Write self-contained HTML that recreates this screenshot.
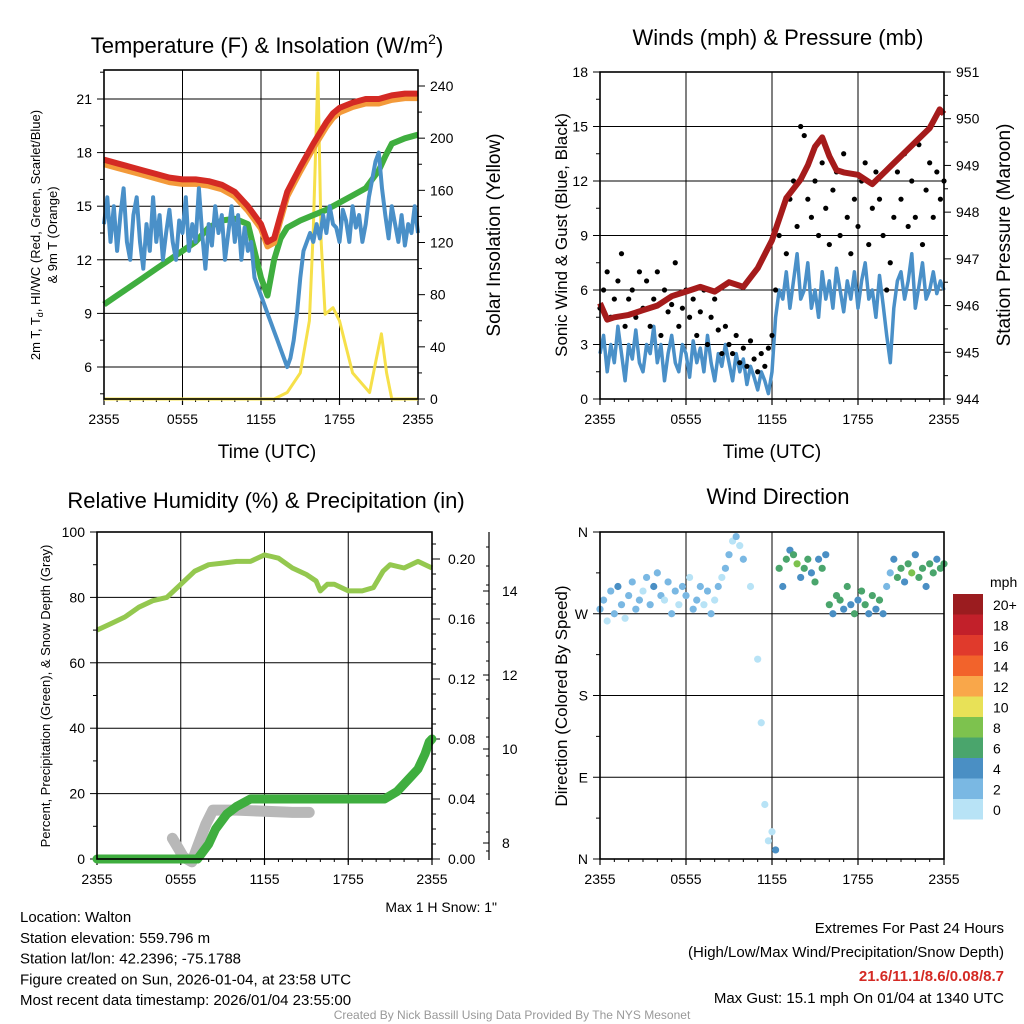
<!DOCTYPE html>
<html><head><meta charset="utf-8"><style>
body{margin:0;background:#fff}
svg{display:block;font-family:"Liberation Sans",Arial,sans-serif}
</style></head><body>
<svg id="s" width="1024" height="1024" viewBox="0 0 1024 1024"></svg>
<script>
// ---------- data ----------
const xTickLabels=["2355","0555","1155","1755","2355"];
// Panel 1 (hours since 2355)
const tempHrs=[0,1,2,3,4,5,6,7,8,9,10,11,11.5,12,12.5,13,13.5,14,14.5,15,16,17,17.5,18,19,20,21,22,23,24];
const tempVals=[17.6,17.4,17.2,17.0,16.8,16.6,16.5,16.5,16.4,16.2,15.8,15.0,14.5,14.0,13.0,13.2,14.5,15.8,16.5,17.2,18.5,19.7,20.2,20.5,20.8,21.0,21.0,21.2,21.3,21.3];
const dewHrs=[0,1,2,3,4,5,6,7,8,9,10,11,11.5,12,12.5,13,13.5,14,15,16,17,18,19,20,20.5,21,21.5,22,23,24];
const dewVals=[9.5,10.0,10.5,11.0,11.5,12.0,12.5,13.0,13.8,14.2,14.3,14.0,12.5,11.0,10.0,12.0,13.2,13.8,14.2,14.5,14.8,15.2,15.6,16.0,16.5,17.0,17.8,18.5,18.8,19.0];
const wcVals=[14,15.5,13,15,12.5,14.5,16,13,12,14.5,15.5,13,
11.5,14,12.5,15.5,13,14.5,12,13.5,14.8,13,12,14.2,
13.5,15.5,12.5,14,13,16,13.5,11.5,14,12.8,15,13.5,
14.5,12,13.5,15,13,14.5,12,13.8,12.5,13,11,10.5,
10,9.5,9,8.5,8,7.5,7,6.5,6,6.5,7.5,9,
11,12.5,13,13.5,13,14,13.2,14.5,13.5,15,14,13.8,
13,14.8,14.2,13,15,13.8,14.5,13,14,15.5,16.5,17.5,
18,16,14.5,13.2,15,14,13,14.5,12.8,14,13.5,15,13.5];
const solarHrs=[0,13,14,15,15.7,16.0,16.35,16.6,16.9,17.5,18,18.5,19,20.3,20.8,21.2,21.6,22,24];
const solarVals=[0,0,5,20,60,130,250,120,65,70,60,40,20,5,30,50,20,0,0];
// Panel 2
const presHrs=[0,0.5,1,2,3,4,5,6,7,8,9,10,11,12,13,14,14.5,15,15.5,16,16.5,17,18,19,20,21,22,23,23.7,24];
const presVals=[946.05,945.7,945.75,945.8,945.9,946.0,946.2,946.3,946.4,946.3,946.5,946.4,946.8,947.4,948.3,948.7,949.0,949.4,949.6,949.2,948.9,948.85,948.8,948.6,948.9,949.2,949.5,949.8,950.2,950.1];
const sonicVals=[2.5,3.5,1.5,3,2,4,2.5,1,3,2.2,3.8,2,
1.5,3,2.5,4,2,3,1,2.5,3.5,2,1.5,3,
2.5,1.2,3.2,2,2.8,1.5,3.5,2,1,2.5,1.8,3,
2,1,2.5,1.5,2.2,0.8,1.8,1.2,0.5,1.5,1,0.3,
1.5,4.5,6,5.5,7,5,6.5,8,5.5,6,7.5,5,
6,4.5,7,5.5,6.5,5,7.2,6,4.8,6.5,5.5,7,
5,6.5,7.5,5.5,6,4.5,6.8,5.2,3.5,2,5,6.5,
7,5.5,6.5,8,5,6.2,7.5,5.5,6,7,5.8,6.5,6];
const gustVals=[5,6,7,4.5,5.5,6.5,8,4,5.5,6,4.5,7,
5,6.5,4,5.5,7,3.5,6,4.8,5.2,7.5,4,5,
6,4.5,5.5,3.5,4.8,6,3,4.5,5.5,3.8,2.5,4,
3,2.5,3.5,2,2.8,1.8,3.2,2.2,1.5,2.5,1.8,2.8,
3.5,6,9,10.5,8,11,12,9.5,15,14.5,11,10,
12,9,13,10.5,8.5,11.5,12.5,9,13.5,10,8,11,
9.5,12,13,8.5,10.5,12.5,11,9,6,7.5,10,12.5,
11,13.5,9.5,12,10,14,8.5,11.5,13,10,12.5,11,12];
// Panel 3
const rhHrs=[0,1,2,3,4,5,6,7,8,9,10,11,12,12.5,13,14,15,15.7,16,16.5,17,18,19,19.8,20.5,21,22,23,24];
const rhVals=[70,72,74,77,79,80,84,88,90,90.5,91,91,93,92.5,92,89,87,85,82,84,84,82,82,83,88,90,89,91,89];
const precHrs=[0,7.2,8,8.5,9.3,10,11,20.6,21.5,22,22.5,23,23.5,23.8,24];
const precVals=[0,0,0.01,0.02,0.03,0.035,0.04,0.04,0.045,0.05,0.055,0.06,0.07,0.078,0.08];
const snowHrs=[5.4,5.8,6.2,6.8,7.3,7.8,8.3,10,14,15.2];
const snowVals=[8.1,7.9,7.7,7.6,8.0,8.4,8.7,8.7,8.65,8.65];
// Panel 4
const dirVals=[275,285,262,295,270,300,280,265,290,305,275,285,
295,310,280,300,315,290,285,305,270,295,280,300,
290,310,275,285,300,280,295,270,285,300,310,320,
335,350,355,345,330,null,300,null,220,150,60,20,
30,10,320,300,330,340,335,325,310,320,330,315,
305,330,320,335,280,270,290,285,275,300,280,270,
285,295,280,270,290,275,285,270,300,315,330,310,
320,305,325,315,335,310,320,300,325,315,330,320,325];
const cbLabels=["20+","18","16","14","12","10","8","6","4","2","0"];
const cbColors=["#9b1c1f","#c2202a","#e03a2c","#f2632b","#f9a74a","#e8e157","#7dc24e","#4aa56c","#4a8fc4","#7ab8e3","#b8e3f6"];

// ---------- helpers ----------
const NS="http://www.w3.org/2000/svg",svg=document.getElementById('s');
function el(tag,attrs,parent,txt){const e=document.createElementNS(NS,tag);for(const k in attrs)e.setAttribute(k,attrs[k]);if(txt!==undefined)e.textContent=txt;(parent||svg).appendChild(e);return e;}
function lin(d0,d1,r0,r1){return v=>r0+(v-d0)/(d1-d0)*(r1-r0);}
function path(xs,ys,sx,sy){return xs.map((x,i)=>(i?'L':'M')+sx(x).toFixed(1)+','+sy(ys[i]).toFixed(1)).join('');}
const q=i=>i*0.25;
const qHrs=wcVals.map((v,i)=>q(i));
function frame(g,x0,x1,y0,y1,sx){
  for(let i=0;i<5;i++){const x=x0+(x1-x0)*i/4;
    const t=el('text',{x:x,y:y1+25,'font-size':14,'text-anchor':'middle'},g,xTickLabels[i]);
    
    el('line',{x1:x,x2:x,y1:y1,y2:y1+6,stroke:'#000','stroke-width':1.2},g);
    if(i>0&&i<4)el('line',{x1:x,x2:x,y1:y0,y2:y1,stroke:'#000','stroke-width':1},g);
  }
  for(let i=0;i<24;i++){const x=x0+(x1-x0)*i/24;el('line',{x1:x,x2:x,y1:y1,y2:y1+3,stroke:'#000'},g);}
}
function box(g,x0,x1,y0,y1){el('rect',{x:x0,y:y0,width:x1-x0,height:y1-y0,fill:'none',stroke:'#000','stroke-width':1.6},g);}
function vtext(g,x,y,size,txt,name,rot){const t=el('text',{x:x,y:y,'font-size':size,'text-anchor':'middle',transform:`rotate(${rot||-90} ${x} ${y})`},g,txt);return t;}

// ---------- Panel 1 ----------
{const g=el('g',{});
const X0=104,X1=418,Y0=70,Y1=399;
const sx=lin(0,24,X0,X1),sy=lin(6,21,367,99),sr=lin(0,240,399,86);
const t=el('text',{x:267,y:53,'font-size':22,'text-anchor':'middle'},g);
t.innerHTML='Temperature (F) &amp; Insolation (W/m<tspan dy="-9" font-size="14">2</tspan><tspan dy="9">)</tspan>';
[6,9,12,15,18,21].forEach(v=>{const y=sy(v);el('line',{x1:X0,x2:X1,y1:y,y2:y,stroke:'#000'},g);el('line',{x1:X0-7,x2:X0,y1:y,y2:y,stroke:'#000'},g);
  const l=el('text',{x:X0-12,y:y+5,'font-size':14,'text-anchor':'end'},g,v);});
[4.5,7.5,10.5,13.5,16.5,19.5,22.5].forEach(v=>{const y=sy(v);if(y>Y0&&y<Y1)el('line',{x1:X0-4,x2:X0,y1:y,y2:y,stroke:'#000'},g);});
[0,40,80,120,160,200,240].forEach(v=>{const y=sr(v);el('line',{x1:X1,x2:X1+7,y1:y,y2:y,stroke:'#000'},g);
  const l=el('text',{x:X1+12,y:y+5,'font-size':14},g,v);});
for(let v=20;v<250;v+=40){el('line',{x1:X1,x2:X1+4,y1:sr(v),y2:sr(v),stroke:'#000'},g);}
frame(g,X0,X1,Y0,Y1,sx);
let p=el('path',{d:path(solarHrs,solarVals,sx,sr),fill:'none',stroke:'#f6e04a','stroke-width':3,'stroke-linejoin':'round'},g);
p=el('path',{d:path(dewHrs,dewVals,sx,sy),fill:'none',stroke:'#3fae3f','stroke-width':6,'stroke-linejoin':'round'},g);
p=el('path',{d:path(tempHrs,tempVals.map(v=>v-0.25),sx,sy),fill:'none',stroke:'#f39a3a','stroke-width':6,'stroke-linejoin':'round'},g);
p=el('path',{d:path(qHrs,wcVals,sx,sy),fill:'none',stroke:'#4a90c8','stroke-width':4,'stroke-linejoin':'round'},g);
p=el('path',{d:path(tempHrs,tempVals,sx,sy),fill:'none',stroke:'#d42a24','stroke-width':6,'stroke-linejoin':'round'},g);
box(g,X0,X1,Y0,Y1);
const yt=vtext(g,40,235,13,'','y-axis-title');
yt.innerHTML='2m T, T<tspan dy="3" font-size="9">d</tspan><tspan dy="-3">, HI/WC (Red, Green, Scarlet/Blue)</tspan>';
vtext(g,57,235,13,'& 9m T (Orange)','y-axis-title-line2');
vtext(g,500,235,19,'Solar Insolation (Yellow)','right-axis-title');
const xl=el('text',{x:267,y:458,'font-size':19,'text-anchor':'middle'},g,'Time (UTC)');
}
// ---------- Panel 2 ----------
{const g=el('g',{});
const X0=600,X1=944,Y0=72,Y1=399;
const sx=lin(0,24,X0,X1),sy=lin(0,18,399,72),sp=lin(944,951,399,72);
const t=el('text',{x:778,y:45,'font-size':22,'text-anchor':'middle'},g,'Winds (mph) & Pressure (mb)');
[0,3,6,9,12,15,18].forEach(v=>{const y=sy(v);el('line',{x1:X0,x2:X1,y1:y,y2:y,stroke:'#000'},g);el('line',{x1:X0-7,x2:X0,y1:y,y2:y,stroke:'#000'},g);
  const l=el('text',{x:X0-12,y:y+5,'font-size':14,'text-anchor':'end'},g,v);});
for(let v=1.5;v<18;v+=3)el('line',{x1:X0-4,x2:X0,y1:sy(v),y2:sy(v),stroke:'#000'},g);
for(let v=944;v<=951;v++){const y=sp(v);el('line',{x1:X1,x2:X1+7,y1:y,y2:y,stroke:'#000'},g);
  const l=el('text',{x:X1+12,y:y+5,'font-size':14},g,v);
  if(v<951)el('line',{x1:X1,x2:X1+4,y1:sp(v+0.5),y2:sp(v+0.5),stroke:'#000'},g);}
frame(g,X0,X1,Y0,Y1,sx);
let p=el('path',{d:path(qHrs,sonicVals,sx,sy),fill:'none',stroke:'#4a90c8','stroke-width':3.5,'stroke-linejoin':'round'},g);
gustVals.forEach((v,i)=>{const c=el('circle',{cx:sx(q(i)),cy:sy(v),r:2.6,fill:'#000'},g);});
p=el('path',{d:path(presHrs,presVals,sx,sp),fill:'none',stroke:'#a51b1b','stroke-width':6,'stroke-linejoin':'round'},g);
box(g,X0,X1,Y0,Y1);
vtext(g,567,235,17,'Sonic Wind & Gust (Blue, Black)','y-axis-title');
vtext(g,1010,235,19,'Station Pressure (Maroon)','right-axis-title');
const xl=el('text',{x:772,y:458,'font-size':19,'text-anchor':'middle'},g,'Time (UTC)');
}
// ---------- Panel 3 ----------
{const g=el('g',{});
const X0=97,X1=432,Y0=532,Y1=859;
const sx=lin(0,24,X0,X1),sy=lin(0,100,859,532),sq=lin(0,0.2,859,559);
const snowT=[8,10,12,14],snowY=[843,749,675,591];
const ss=v=>{let i=0;while(i<2&&v>snowT[i+1])i++;return snowY[i]+(v-snowT[i])/(snowT[i+1]-snowT[i])*(snowY[i+1]-snowY[i]);};
const t=el('text',{x:266,y:508,'font-size':22,'text-anchor':'middle'},g,'Relative Humidity (%) & Precipitation (in)');
[0,20,40,60,80,100].forEach(v=>{const y=sy(v);el('line',{x1:X0,x2:X1,y1:y,y2:y,stroke:'#000'},g);el('line',{x1:X0-7,x2:X0,y1:y,y2:y,stroke:'#000'},g);
  const l=el('text',{x:X0-12,y:y+5,'font-size':14,'text-anchor':'end'},g,v);});
for(let v=10;v<100;v+=20)el('line',{x1:X0-4,x2:X0,y1:sy(v),y2:sy(v),stroke:'#000'},g);
[0,0.04,0.08,0.12,0.16,0.2].forEach(v=>{const y=sq(v);el('line',{x1:X1,x2:X1+8,y1:y,y2:y,stroke:'#000'},g);
  const l=el('text',{x:X1+16,y:y+5,'font-size':14},g,v.toFixed(2));});
for(let v=0.01;v<0.215;v+=0.01)el('line',{x1:X1,x2:X1+4,y1:sq(v),y2:sq(v),stroke:'#000'},g);
el('line',{x1:489,x2:489,y1:532,y2:860,stroke:'#000','stroke-width':1.2},g);
snowT.forEach((v,i)=>{el('line',{x1:483,x2:489,y1:snowY[i],y2:snowY[i],stroke:'#000'},g);
  const l=el('text',{x:502,y:snowY[i]+5,'font-size':14},g,v);});
for(let y=547;y<855;y+=19)el('line',{x1:486,x2:489,y1:y,y2:y,stroke:'#000'},g);
frame(g,X0,X1,Y0,Y1,sx);
let p=el('path',{d:path(snowHrs,snowVals,sx,ss),fill:'none',stroke:'#b8b8b8','stroke-width':11,'stroke-linecap':'round','stroke-linejoin':'round'},g);
p=el('path',{d:path(precHrs,precVals,sx,sq),fill:'none',stroke:'#3fae3f','stroke-width':9,'stroke-linecap':'round','stroke-linejoin':'round'},g);
p=el('path',{d:path(rhHrs,rhVals,sx,sy),fill:'none',stroke:'#94c84f','stroke-width':5,'stroke-linejoin':'round'},g);
box(g,X0,X1,Y0,Y1);
vtext(g,50,696,13,'Percent, Precipitation (Green), & Snow Depth (Gray)','y-axis-title');
const m=el('text',{x:497,y:912,'font-size':14,'text-anchor':'end'},g,'Max 1 H Snow: 1"');
}
// ---------- Panel 4 ----------
{const g=el('g',{});
const X0=600,X1=944,Y0=532,Y1=859;
const sx=lin(0,24,X0,X1),sy=lin(0,360,859,532);
const t=el('text',{x:778,y:504,'font-size':22,'text-anchor':'middle'},g,'Wind Direction');
[[0,'N'],[90,'E'],[180,'S'],[270,'W'],[360,'N']].forEach(([v,s])=>{const y=sy(v);el('line',{x1:X0,x2:X1,y1:y,y2:y,stroke:'#000'},g);el('line',{x1:X0-7,x2:X0,y1:y,y2:y,stroke:'#000'},g);
  const l=el('text',{x:X0-12,y:y+5,'font-size':14,'text-anchor':'end'},g,s);});
for(let v=45;v<360;v+=90)el('line',{x1:X0-4,x2:X0,y1:sy(v),y2:sy(v),stroke:'#000'},g);
frame(g,X0,X1,Y0,Y1,sx);
dirVals.forEach((d,i)=>{if(d===null)return;const sp=sonicVals[i];let b=Math.min(10,Math.floor(sp/2));const col=cbColors[10-b];
  const c=el('circle',{cx:sx(q(i)),cy:sy(d),r:3.6,fill:col},g);});
box(g,X0,X1,Y0,Y1);
vtext(g,567,696,17,'Direction (Colored By Speed)','y-axis-title');
const cb=el('g',{},g);
const mp=el('text',{x:990,y:587,'font-size':14},cb,'mph');
cbColors.forEach((c,i)=>{const y=594+i*20.5;el('rect',{x:953,y:y,width:30,height:20.5,fill:c},cb);
  const l=el('text',{x:993,y:y+16,'font-size':14},cb,cbLabels[i]);});
}
// ---------- Footer ----------
{const g=el('g',{});
["Location: Walton","Station elevation: 559.796 m","Station lat/lon: 42.2396; -75.1788","Figure created on Sun, 2026-01-04, at 23:58 UTC","Most recent data timestamp: 2026/01/04 23:55:00"].forEach((s,i)=>{
  const l=el('text',{x:20,y:922+i*20.8,'font-size':15},g,s);});
let l=el('text',{x:1004,y:933,'font-size':15,'text-anchor':'end'},g,'Extremes For Past 24 Hours');
l=el('text',{x:1004,y:957,'font-size':15,'text-anchor':'end'},g,'(High/Low/Max Wind/Precipitation/Snow Depth)');
l=el('text',{x:1004,y:981,'font-size':15,'text-anchor':'end','font-weight':'bold',fill:'#d42a24'},g,'21.6/11.1/8.6/0.08/8.7');
l=el('text',{x:1004,y:1003,'font-size':15,'text-anchor':'end'},g,'Max Gust: 15.1 mph On 01/04 at 1340 UTC');
l=el('text',{x:512,y:1019,'font-size':12,'text-anchor':'middle',fill:'#999'},g,'Created By Nick Bassill Using Data Provided By The NYS Mesonet');
}
</script>
</body></html>
